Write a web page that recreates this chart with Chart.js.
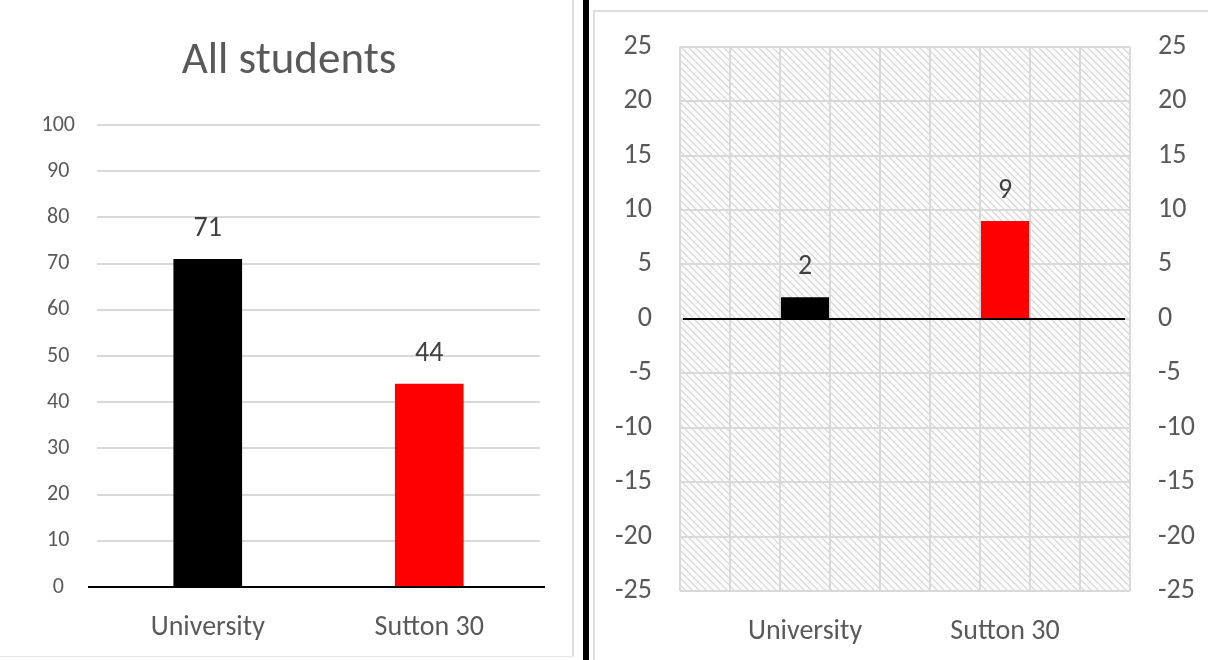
<!DOCTYPE html>
<html>
<head>
<meta charset="utf-8">
<script src="https://cdn.jsdelivr.net/npm/chart.js@4.4.1/dist/chart.umd.min.js"></script>
<style>
  html, body { margin: 0; padding: 0; background: #fff; }
  body { width: 1208px; height: 660px; position: relative; overflow: hidden; }
  #leftPanel { position: absolute; left: 0; top: 0; width: 572px; height: 656px;
               border-right: 2px solid #dedede; border-bottom: 1px solid #e6e6e6; }
  #divider { position: absolute; left: 583px; top: 0; width: 6px; height: 660px; background: #000; }
  #rightPanel { position: absolute; left: 593px; top: 10px; width: 640px; height: 680px;
                border-left: 2px solid #dedede; border-top: 2px solid #dedede; }
  #allChart { position: absolute; left: 0; top: 0; }
  #changeChart { position: absolute; left: 594px; top: 2px; }
</style>
</head>
<body>
<div id="leftPanel"></div>
<div id="divider"></div>
<div id="rightPanel"></div>
<canvas id="allChart" width="572" height="656"></canvas>
<canvas id="changeChart" width="614" height="658"></canvas>

<script>
// --- DATA ---
const categories = ['University', 'Sutton 30'];
const barColors = ['#000000', '#ff0000'];
const allStudents = [71, 44];
const change = [2, 9];
// nine grid columns on the change panel; the two groups sit in the 3rd and 7th
const changeSlots = ['', '', 'University', '', '', '', 'Sutton 30', '', ''];

const FONT = 'Carlito, Calibri, Lato, sans-serif';
const TEXT = '#595959';
const GRID = '#d9d9d9';

Chart.defaults.font.family = FONT;
Chart.defaults.color = TEXT;

// value labels above each bar
const valueLabels = {
    id: 'valueLabels',
    afterDatasetsDraw(chart) {
        const c = chart.ctx;
        c.save();
        c.font = '28px ' + FONT;
        c.fillStyle = '#404040';
        c.textAlign = 'center';
        c.textBaseline = 'middle';
        chart.data.datasets.forEach((ds, di) => {
            chart.getDatasetMeta(di).data.forEach((bar, i) => {
                const v = ds.data[i];
                if (v === null || v === undefined) return;
                c.fillText(String(v), bar.x, bar.y - 30);
            });
        });
        c.restore();
    }
};

// black zero line across the plot
const zeroLine = {
    id: 'zeroLine',
    afterDatasetsDraw(chart, args, opts) {
        const y = chart.scales.y.getPixelForValue(0);
        const a = chart.chartArea;
        const c = chart.ctx;
        c.save();
        c.strokeStyle = '#000';
        c.lineWidth = 2;
        c.beginPath();
        c.moveTo(a.left - (opts.extendLeft || 0), y);
        c.lineTo(a.right + (opts.extendRight || 0), y);
        c.stroke();
        c.restore();
    }
};

// diagonal hatch behind the change plot
function makeHatch() {
    const s = 7;
    const p = document.createElement('canvas');
    p.width = s; p.height = s;
    const g = p.getContext('2d');
    g.fillStyle = '#fcfcfc';
    g.fillRect(0, 0, s, s);
    g.strokeStyle = '#d4d4d4';
    g.lineWidth = 1.2;
    g.beginPath();
    g.moveTo(-1, -1); g.lineTo(s + 1, s + 1);
    g.moveTo(-1, s - 1); g.lineTo(1, s + 1);
    g.moveTo(s - 1, -1); g.lineTo(s + 1, 1);
    g.stroke();
    return p;
}
const hatchBg = {
    id: 'hatchBg',
    beforeDraw(chart) {
        const a = chart.chartArea;
        const c = chart.ctx;
        c.save();
        c.fillStyle = c.createPattern(makeHatch(), 'repeat');
        c.fillRect(a.left, a.top, a.right - a.left, a.bottom - a.top);
        c.restore();
    }
};

// --- LEFT: ALL STUDENTS ---
new Chart(document.getElementById('allChart'), {
    type: 'bar',
    data: {
        labels: categories,
        datasets: [{
            data: allStudents,
            backgroundColor: barColors,
            barPercentage: 0.62,
            categoryPercentage: 0.5
        }]
    },
    options: {
        responsive: false,
        animation: false,
        layout: { padding: { top: 0, right: 32, bottom: 0, left: 38 } },
        plugins: {
            legend: { display: false },
            tooltip: { enabled: false },
            title: {
                display: true,
                text: 'All students',
                color: TEXT,
                font: { size: 45, weight: 'normal' },
                padding: { top: 35, bottom: 36 }
            },
            zeroLine: { extendLeft: 9, extendRight: 5 }
        },
        scales: {
            x: {
                grid: { display: false, drawTicks: false },
                border: { display: false },
                ticks: { font: { size: 28 }, color: TEXT, padding: 24 },
                afterFit(scale) { scale.height = 69; }
            },
            y: {
                min: 0, max: 100,
                ticks: { stepSize: 10, font: { size: 22 }, color: TEXT, padding: 22, crossAlign: 'center' },
                grid: { color: GRID, lineWidth: 2, drawTicks: false },
                border: { display: false },
                afterFit(scale) { scale.width = 59; }
            }
        }
    },
    plugins: [valueLabels, zeroLine]
});

// --- RIGHT: CHANGE ---
new Chart(document.getElementById('changeChart'), {
    type: 'bar',
    data: {
        labels: changeSlots,
        datasets: [{
            data: changeSlots.map(s => {
                const i = categories.indexOf(s);
                return i < 0 ? null : change[i];
            }),
            backgroundColor: changeSlots.map(s => {
                const i = categories.indexOf(s);
                return i < 0 ? 'transparent' : barColors[i];
            }),
            barPercentage: 0.96,
            categoryPercentage: 1.0
        }]
    },
    options: {
        responsive: false,
        animation: false,
        layout: { padding: { top: 17, right: 0, bottom: 0, left: 0 } },
        plugins: {
            legend: { display: false },
            tooltip: { enabled: false },
            zeroLine: { extendLeft: -3, extendRight: -5 }
        },
        scales: {
            x: {
                grid: { color: GRID, lineWidth: 2, drawTicks: false, offset: true },
                border: { display: false },
                ticks: { font: { size: 28 }, color: TEXT, padding: 24, autoSkip: false, maxRotation: 0 },
                afterFit(scale) { scale.height = 69; }
            },
            y: {
                position: 'left',
                min: -25, max: 25,
                ticks: { stepSize: 5, font: { size: 28 }, color: TEXT, padding: 28 },
                grid: { color: GRID, lineWidth: 2, drawTicks: false },
                border: { display: false },
                afterFit(scale) { scale.width = 86; }
            },
            y2: {
                position: 'right',
                min: -25, max: 25,
                ticks: { stepSize: 5, font: { size: 28 }, color: TEXT, padding: 28 },
                grid: { display: false, drawTicks: false },
                border: { display: false },
                afterFit(scale) { scale.width = 78; }
            }
        }
    },
    plugins: [hatchBg, valueLabels, zeroLine]
});
</script>
</body>
</html>
